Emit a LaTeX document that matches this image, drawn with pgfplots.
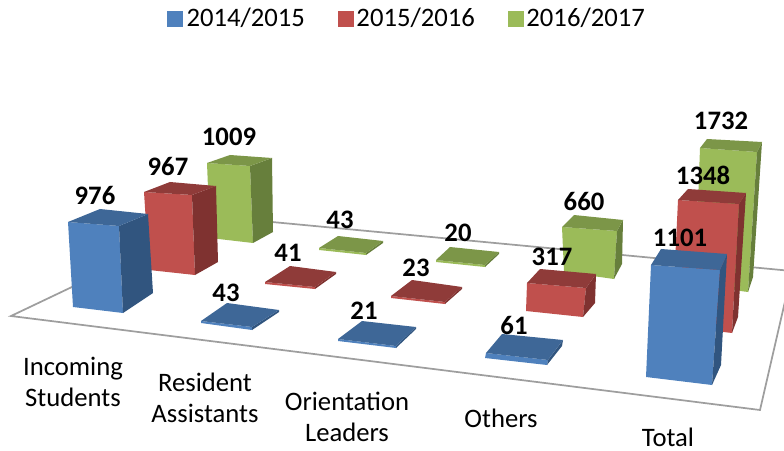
\documentclass[border=0pt]{standalone}
\usepackage{pgfplots}
\pgfplotsset{compat=1.18}
\usepackage{fontspec}
\setmainfont{Carlito}
\definecolor{bf}{HTML}{4F81BD}\definecolor{bt}{HTML}{3E6797}\definecolor{bs}{HTML}{31557F}
\definecolor{rf}{HTML}{C0504D}\definecolor{rt}{HTML}{8F3B39}\definecolor{rs}{HTML}{7F3230}
\definecolor{gf}{HTML}{9BBB59}\definecolor{gt}{HTML}{7C9648}\definecolor{gs}{HTML}{677F3C}
% #1 colour prefix; #2 front TL, #3 front TR, #4 front BR, #5 front BL, #6 back TL, #7 back TR, #8 side bottom
\newcommand{\barbox}[8]{%
  \addplot[fill=#1f,draw=none,forget plot] coordinates {#2 #3 #4 #5} --cycle;
  \addplot[fill=#1s,draw=none,forget plot] coordinates {#3 #7 #8 #4} --cycle;
  \addplot[fill=#1t,draw=none,forget plot] coordinates {#2 #3 #7 #6} --cycle;
}
\newcommand{\val}[3]{\node[font=\fontsize{20}{23}\selectfont\bfseries,inner sep=0pt] at (axis cs:#1,#2) {#3};}
\newcommand{\cat}[3]{\node[font=\fontsize{20}{23.2}\selectfont,align=center,inner sep=0pt] at (axis cs:#1,#2) {#3};}
\pgfplotsset{sq/.style={legend image code/.code={\fill[#1] (0,-5.6pt) rectangle (11.25pt,5.6pt);}}}
\begin{document}
\begin{tikzpicture}
\useasboundingbox (0,0) rectangle (588pt,337.5pt);
\begin{axis}[
  at={(0,0)},anchor=south west,
  scale only axis,width=588pt,height=337.5pt,
  xmin=0,xmax=784,ymin=0,ymax=450,
  y filter/.expression={450-y},
  hide axis,clip=true,
  legend style={at={(axis cs:167,431.5)},anchor=west,draw=none,fill=none,inner sep=0pt,outer sep=0pt,
    legend columns=3,font=\fontsize{20}{24}\selectfont,
    /tikz/column 1/.style={column sep=1pt},
    /tikz/column 2/.style={column sep=23pt},
    /tikz/column 4/.style={column sep=23pt}},
  legend cell align=left,
]
% floor
\addplot[draw=black!38,line width=1.3pt,forget plot] coordinates {(11,316)(219,217)(792,271)(760,410)} --cycle;
% 2016/2017
\barbox{g}{(207,163)}{(250,166)}{(253,243)}{(210,238)}{(230,155)}{(272,158)}{(273,232)}
\barbox{g}{(319,248)}{(366,253)}{(366,255)}{(319,250)}{(338,236)}{(383,241)}{(383,243)}
\barbox{g}{(436,260)}{(485,265)}{(485,267)}{(436,262)}{(450,247)}{(499,252)}{(499,254)}
\barbox{g}{(562,227)}{(617,231)}{(614,279)}{(564,272)}{(574,215)}{(623,220)}{(622,264)}
\barbox{g}{(700,148)}{(757,152)}{(748,292)}{(695,285)}{(707,139)}{(762,142)}{(753,277)}
% 2015/2016
\barbox{r}{(144,192)}{(192,195)}{(195,275)}{(149,270)}{(170,182)}{(216,186)}{(218,262)}
\barbox{r}{(265,282)}{(315,287)}{(315,289)}{(265,284)}{(290,266)}{(336,272)}{(336,274)}
\barbox{r}{(391,296)}{(445,302)}{(445,304)}{(391,298)}{(412,280)}{(462,287)}{(462,289)}
\barbox{r}{(527,283)}{(586,288)}{(583,317)}{(526,311)}{(540,269)}{(596,274)}{(595,303)}
\barbox{r}{(678,200)}{(739,204)}{(732,333)}{(672,326)}{(688,189)}{(746,193)}{(738,317)}
% 2014/2015
\barbox{b}{(68,222)}{(119,226)}{(123,313)}{(73,307)}{(100,209)}{(148,214)}{(153,293)}
\barbox{b}{(201,321)}{(252,327)}{(252,330)}{(201,323)}{(227,303)}{(279,310)}{(279,312)}
\barbox{b}{(338,339)}{(396,346)}{(396,348)}{(338,341)}{(362,321)}{(416,327)}{(416,329)}
\barbox{b}{(486,353)}{(548,360)}{(547,365)}{(485,358)}{(502,334)}{(563,340)}{(562,346)}
\barbox{b}{(651,265)}{(720,270)}{(712,385)}{(646,377)}{(661,249)}{(727,254)}{(721,365)}
% legend
\addlegendimage{sq=bf}
\addlegendentry{2014/2015}
\addlegendimage{sq=rf}
\addlegendentry{2015/2016}
\addlegendimage{sq=gf}
\addlegendentry{2016/2017}
% value labels (y measured from the bottom edge)
\val{95}{255}{976}\val{168}{284}{967}\val{229}{313}{1009}
\val{226}{157}{43}\val{288}{197}{41}\val{340}{230}{43}
\val{364}{139}{21}\val{416}{182}{23}\val{458}{217}{20}
\val{514}{125}{61}\val{552}{193}{317}\val{584}{249}{660}
\val{680}{212}{1101}\val{703}{275}{1348}\val{721}{329}{1732}
% category labels
\cat{73}{68}{Incoming\\Students}
\cat{205}{52}{Resident\\Assistants}
\cat{347}{33}{Orientation\\Leaders}
\cat{501}{32}{Others}
\cat{668}{13}{Total}
\end{axis}
\end{tikzpicture}
\end{document}
